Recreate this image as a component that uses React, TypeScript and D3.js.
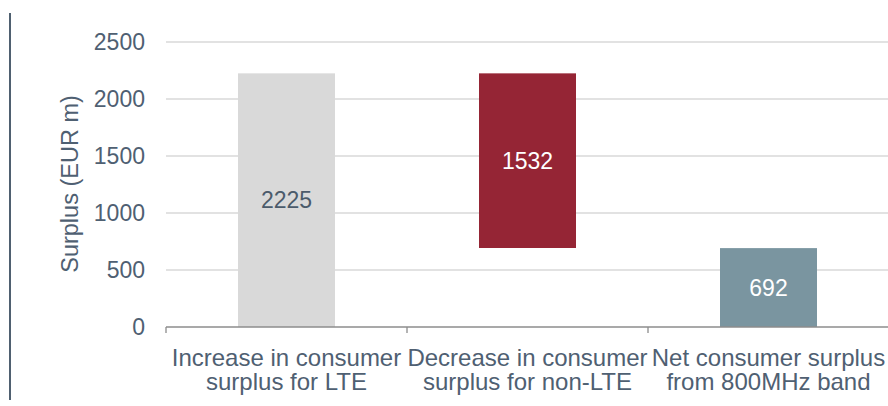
import React from "react";
import * as d3 from "d3";

const categories = [
  ["Increase in consumer", "surplus for LTE"],
  ["Decrease in consumer", "surplus for non-LTE"],
  ["Net consumer surplus", "from 800MHz band"],
];
const barValues = [2225, 1532, 692];
const barBases = [0, 693, 0];
const barColors = ["#d9d9d9", "#952535", "#7a95a0"];
const labelColors = ["#4b5b6b", "#ffffff", "#ffffff"];
const yTicks = [0, 500, 1000, 1500, 2000, 2500];

const W = 888;
const H = 406;
const left = 166;
const right = 888;
const top0 = 42;
const bottom0 = 327;

export default function App() {
  const x = d3
    .scaleBand<number>()
    .domain([0, 1, 2])
    .range([left, left + 241 * 3])
    .paddingInner(0)
    .paddingOuter(0);
  const y = d3.scaleLinear().domain([0, 2500]).range([bottom0, top0]);
  const bw = 97;
  const textColor = "#4f6072";
  const font = "'Liberation Sans', Arial, sans-serif";
  const fs = 23;

  return (
    <svg
      width={W}
      height={H}
      style={{ position: "absolute", left: 0, top: 0, background: "#fff" }}
    >
      <line x1={10} x2={10} y1={13} y2={400} stroke="#4f6070" strokeWidth={2} />
      {yTicks.map((t) => (
        <g key={t}>
          {t > 0 && (
            <line
              x1={left}
              x2={right}
              y1={y(t)}
              y2={y(t)}
              stroke="#d9d9d9"
              strokeWidth={1.3}
            />
          )}
          <text
            x={145}
            y={y(t)}
            dy="0.35em"
            textAnchor="end"
            fontFamily={font}
            fontSize={fs}
            fill={textColor}
          >
            {t}
          </text>
        </g>
      ))}
      <text
        transform={`translate(78,184) rotate(-90)`}
        textAnchor="middle"
        fontFamily={font}
        fontSize={23.5}
        fill={textColor}
      >
        Surplus (EUR m)
      </text>
      {barValues.map((v, i) => {
        const cx = (x(i) as number) + x.bandwidth() / 2;
        const y0 = y(barBases[i]);
        const y1 = y(barBases[i] + v);
        return (
          <g key={i}>
            <rect
              x={cx - bw / 2}
              y={y1}
              width={bw}
              height={y0 - y1}
              fill={barColors[i]}
            />
            <text
              x={cx}
              y={(y0 + y1) / 2}
              dy="0.35em"
              textAnchor="middle"
              fontFamily={font}
              fontSize={fs}
              fill={labelColors[i]}
            >
              {v}
            </text>
          </g>
        );
      })}
      <line
        x1={left}
        x2={right}
        y1={bottom0}
        y2={bottom0}
        stroke="#8c8c8c"
        strokeWidth={1.3}
      />
      {[0, 1, 2, 3].map((i) => {
        const xx = left + x.bandwidth() * i;
        return (
          <line
            key={i}
            x1={xx}
            x2={xx}
            y1={bottom0}
            y2={bottom0 + 6}
            stroke="#8c8c8c"
            strokeWidth={1.3}
          />
        );
      })}
      {categories.map((lines, i) => {
        const cx = (x(i) as number) + x.bandwidth() / 2;
        return (
          <text
            key={i}
            x={cx}
            textAnchor="middle"
            fontFamily={font}
            fontSize={24}
            fill={textColor}
          >
            {lines.map((l, j) => (
              <tspan key={j} x={cx} y={365.5 + j * 24.5}>
                {l}
              </tspan>
            ))}
          </text>
        );
      })}
    </svg>
  );
}
